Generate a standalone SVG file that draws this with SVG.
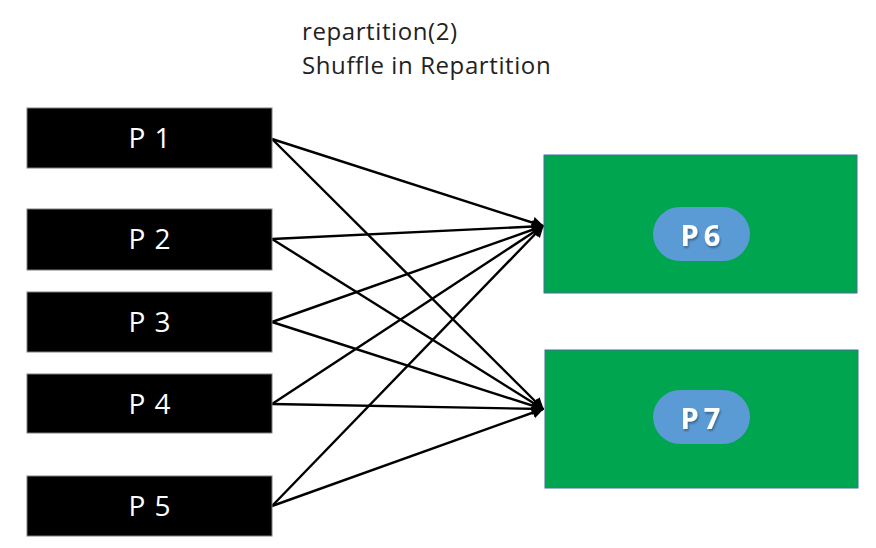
<svg xmlns="http://www.w3.org/2000/svg" width="876" height="548" viewBox="0 0 876 548">
<defs>
<style>
.src{fill:#000;stroke:#7f7f7f;stroke-width:1}
.srct{fill:#fff;font-family:"Open Sans","Noto Sans",sans-serif;font-size:28px;text-anchor:middle;letter-spacing:1px}
.dst{fill:#00A54F;stroke:#41719C;stroke-width:1}
.pill{fill:#5B9BD5}
.pillt{fill:#fff;font-family:"Open Sans","Noto Sans",sans-serif;font-weight:bold;font-size:29px;text-anchor:middle;letter-spacing:5px}
.title{fill:#222;font-family:"Open Sans","Noto Sans",sans-serif;font-size:24px;letter-spacing:0.6px}
.c{stroke:#000;stroke-width:2.4;fill:none;marker-end:url(#ah)}
</style>
<marker id="ah" viewBox="0 0 10 10" refX="9" refY="5" markerWidth="5" markerHeight="5" orient="auto" markerUnits="strokeWidth">
<path d="M0,0 L10,5 L0,10 z" fill="#000"/>
</marker>
<filter id="sh" x="-20%" y="-20%" width="140%" height="140%">
<feDropShadow dx="1" dy="2" stdDeviation="1" flood-color="#000" flood-opacity="0.35"/>
</filter>
</defs>
<rect width="876" height="548" fill="#fff"/>
<g id="title">
<text class="title" x="302" y="40">repartition(2)</text>
<text class="title" x="302" y="74">Shuffle in Repartition</text>
</g>
<g id="connectors">
<line class="c" x1="272" y1="139" x2="543" y2="226"/>
<line class="c" x1="272" y1="139" x2="543" y2="409"/>
<line class="c" x1="272" y1="239" x2="543" y2="226"/>
<line class="c" x1="272" y1="239" x2="543" y2="409"/>
<line class="c" x1="272" y1="322" x2="543" y2="226"/>
<line class="c" x1="272" y1="322" x2="543" y2="409"/>
<line class="c" x1="272" y1="404" x2="543" y2="226"/>
<line class="c" x1="272" y1="404" x2="543" y2="409"/>
<line class="c" x1="272" y1="506" x2="543" y2="226"/>
<line class="c" x1="272" y1="506" x2="543" y2="409"/>
</g>
<g id="p1"><rect class="src" x="27" y="108" width="245" height="60"/><text class="srct" x="150" y="148">P 1</text></g>
<g id="p2"><rect class="src" x="27" y="209" width="245" height="61"/><text class="srct" x="150" y="249">P 2</text></g>
<g id="p3"><rect class="src" x="27" y="292" width="245" height="60"/><text class="srct" x="150" y="332">P 3</text></g>
<g id="p4"><rect class="src" x="27" y="374" width="245" height="59"/><text class="srct" x="150" y="414">P 4</text></g>
<g id="p5"><rect class="src" x="27" y="476" width="245" height="60"/><text class="srct" x="150" y="516">P 5</text></g>
<g id="p6"><rect class="dst" x="544" y="155" width="313" height="138"/><rect class="pill" x="653" y="207" width="97" height="54" rx="27"/><text class="pillt" x="703" y="246" filter="url(#sh)">P6</text></g>
<g id="p7"><rect class="dst" x="545" y="350" width="313" height="138"/><rect class="pill" x="653" y="390" width="97" height="54" rx="27"/><text class="pillt" x="703" y="429" filter="url(#sh)">P7</text></g>
</svg>
